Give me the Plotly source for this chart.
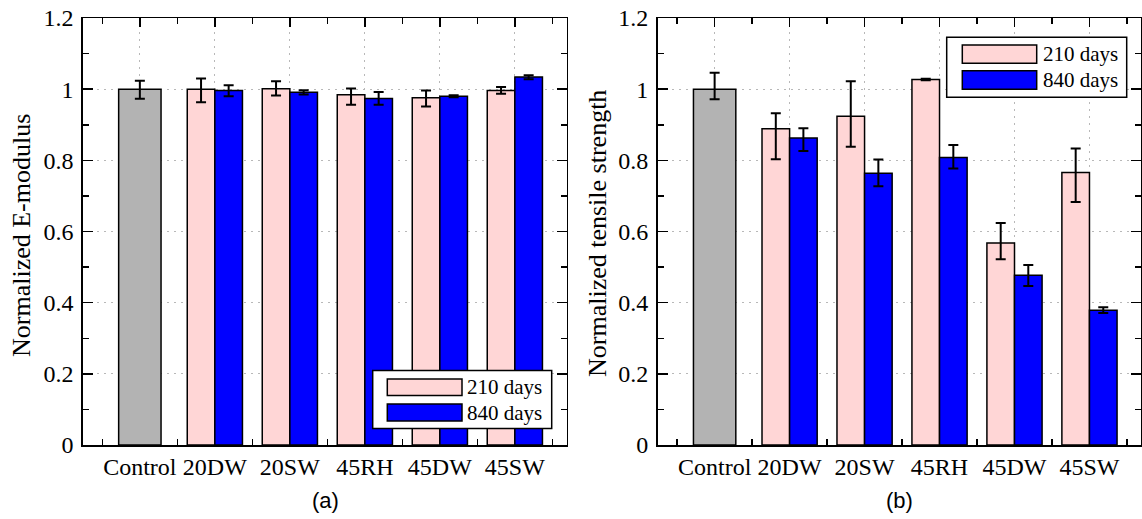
import plotly.graph_objects as go

W, H = 1142, 519

categories = ["Control", "20DW", "20SW", "45RH", "45DW", "45SW"]

# Normalized E-modulus (panel a)
emod_control = [1.000]
emod_control_plus = [0.024]
emod_control_minus = [0.027]
emod_210 = [1.000, 1.001, 0.984, 0.976, 0.996]
emod_210_plus = [0.030, 0.021, 0.018, 0.020, 0.010]
emod_210_minus = [0.037, 0.019, 0.028, 0.025, 0.009]
emod_840 = [0.996, 0.991, 0.974, 0.980, 1.034]
emod_840_plus = [0.015, 0.006, 0.018, 0.003, 0.005]
emod_840_minus = [0.016, 0.006, 0.018, 0.003, 0.006]

# Normalized tensile strength (panel b)
ts_control = [1.000]
ts_control_plus = [0.046]
ts_control_minus = [0.028]
ts_210 = [0.889, 0.924, 1.027, 0.568, 0.766]
ts_210_plus = [0.043, 0.098, 0.002, 0.056, 0.067]
ts_210_minus = [0.086, 0.086, 0.002, 0.046, 0.083]
ts_840 = [0.863, 0.764, 0.808, 0.477, 0.379]
ts_840_plus = [0.027, 0.038, 0.035, 0.029, 0.008]
ts_840_minus = [0.037, 0.037, 0.031, 0.030, 0.008]

series_names = ["210 days", "840 days"]
yticks = [0, 0.2, 0.4, 0.6, 0.8, 1.0, 1.2]

C_GRAY = "#b3b3b3"
C_PINK = "#ffd6d6"
C_BLUE = "#0000ff"
SERIF = "Liberation Serif"

x_ctrl = [0]
x_tr = list(range(1, len(categories)))
PAIR_W = 0.368
CTRL_W = 0.565


def err(plus, minus):
    return dict(type="data", symmetric=False, array=plus, arrayminus=minus,
                color="black", thickness=2, width=5)


fig = go.Figure()


def add_panel(xa, ya, ctrl, cp, cm, v210, p210, m210, v840, p840, m840):
    fig.add_trace(go.Bar(x=x_ctrl, y=ctrl, width=CTRL_W, marker_color=C_GRAY,
                         marker_line=dict(color="black", width=1.5),
                         error_y=err(cp, cm), xaxis=xa, yaxis=ya, showlegend=False))
    fig.add_trace(go.Bar(x=x_tr, y=v210, width=PAIR_W, offset=-PAIR_W, marker_color=C_PINK,
                         marker_line=dict(color="black", width=1.5), name=series_names[0],
                         error_y=err(p210, m210), xaxis=xa, yaxis=ya, showlegend=False))
    fig.add_trace(go.Bar(x=x_tr, y=v840, width=PAIR_W, offset=0, marker_color=C_BLUE,
                         marker_line=dict(color="black", width=1.5), name=series_names[1],
                         error_y=err(p840, m840), xaxis=xa, yaxis=ya, showlegend=False))


add_panel("x", "y", emod_control, emod_control_plus, emod_control_minus,
          emod_210, emod_210_plus, emod_210_minus, emod_840, emod_840_plus, emod_840_minus)
add_panel("x2", "y2", ts_control, ts_control_plus, ts_control_minus,
          ts_210, ts_210_plus, ts_210_minus, ts_840, ts_840_plus, ts_840_minus)


def fx(x):
    return x / W


def fy(y):
    return 1 - y / H


XR = [-0.762, 5.69]
grid = dict(showgrid=True, gridcolor="#b8b8b8", gridwidth=1, griddash="2px,5px")
common = dict(showline=True, linecolor="black", linewidth=1.5, mirror="allticks",
              ticks="inside", tickcolor="black", tickwidth=1.5, automargin=False,
              ticklabeloverflow="allow",
              tickfont=dict(family=SERIF, size=24, color="black"),
              zeroline=False, layer="below traces", **grid)

xcommon = dict(common, range=XR, tickmode="array", tickvals=list(range(len(categories))),
               ticktext=categories, ticklen=9,
               minor=dict(tickmode="linear", tick0=0.5, dtick=1, ticks="inside",
                          ticklen=6, tickcolor="black", tickwidth=1.5, showgrid=False))
ycommon = dict(common, range=[0, 1.2], tickmode="array", tickvals=yticks, ticklen=10,
               ticklabelstandoff=3,
               minor=dict(tickmode="linear", tick0=0, dtick=0.1, ticks="inside",
                          ticklen=6, tickcolor="black", tickwidth=1.5, showgrid=False))

fig.update_layout(
    width=W, height=H,
    margin=dict(l=0, r=0, t=0, b=0, autoexpand=False),
    paper_bgcolor="white", plot_bgcolor="white",
    barmode="overlay",
    showlegend=False,
    xaxis=dict(xcommon, domain=[fx(82.7), fx(566.6)], anchor="y"),
    yaxis=dict(ycommon, domain=[fy(445), fy(18)], anchor="x"),
    xaxis2=dict(xcommon, domain=[fx(657.5), fx(1141.2)], anchor="y2"),
    yaxis2=dict(ycommon, domain=[fy(445), fy(18)], anchor="x2"),
)

shapes = []
annotations = []


def legend_box(x0, y0, x1, y1, patch_x0, patch_x1, rows, text_x):
    shapes.append(dict(type="rect", xref="paper", yref="paper", x0=fx(x0), x1=fx(x1),
                       y0=fy(y1), y1=fy(y0), fillcolor="white",
                       line=dict(color="black", width=1.5), layer="above"))
    for (ry0, ry1), color, name in zip(rows, [C_PINK, C_BLUE], series_names):
        shapes.append(dict(type="rect", xref="paper", yref="paper", x0=fx(patch_x0),
                           x1=fx(patch_x1), y0=fy(ry1), y1=fy(ry0), fillcolor=color,
                           line=dict(color="black", width=1.5), layer="above"))
        annotations.append(dict(xref="paper", yref="paper", x=fx(text_x), y=fy((ry0 + ry1) / 2),
                                text=name, showarrow=False, xanchor="left", yanchor="middle",
                                font=dict(family=SERIF, size=21, color="black")))


legend_box(372.7, 370.5, 551.7, 428.5, 387.3, 462.0, [(379, 395.5), (404, 421)], 465)
legend_box(946.7, 37.3, 1126.7, 97.3, 962.3, 1036.7, [(45, 63.3), (70.7, 89.3)], 1041)

annotations.append(dict(xref="paper", yref="paper", x=fx(22), y=fy(236), text="Normalized E-modulus",
                        textangle=-90, showarrow=False, xanchor="center", yanchor="middle",
                        font=dict(family=SERIF, size=26, color="black")))
annotations.append(dict(xref="paper", yref="paper", x=fx(597), y=fy(234),
                        text="Normalized tensile strength",
                        textangle=-90, showarrow=False, xanchor="center", yanchor="middle",
                        font=dict(family=SERIF, size=26, color="black")))
annotations.append(dict(xref="paper", yref="paper", x=fx(325), y=fy(500), text="(a)",
                        showarrow=False, xanchor="center", yanchor="middle",
                        font=dict(family="Liberation Sans", size=22, color="black")))
annotations.append(dict(xref="paper", yref="paper", x=fx(899), y=fy(500), text="(b)",
                        showarrow=False, xanchor="center", yanchor="middle",
                        font=dict(family="Liberation Sans", size=22, color="black")))

fig.update_layout(shapes=shapes, annotations=annotations)
fig.write_html("out.html",
               config={"displayModeBar": False, "staticPlot": True},
               post_script="document.body.style.margin='0';document.body.style.overflow='hidden';")
